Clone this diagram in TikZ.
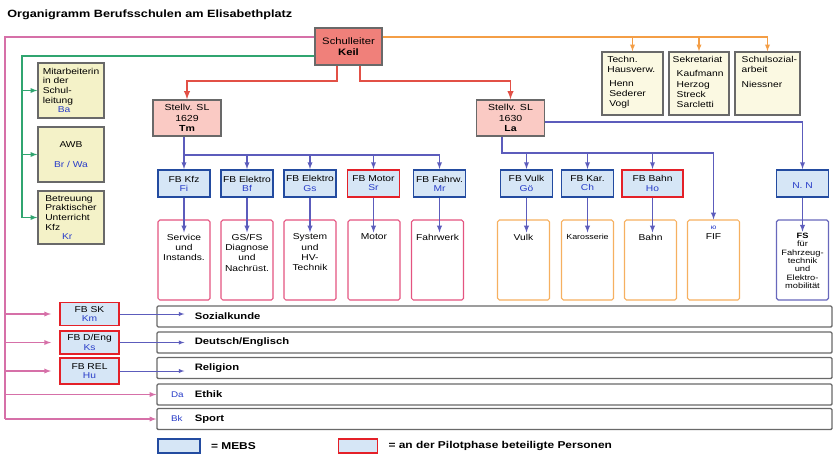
\documentclass[tikz,border=0pt]{standalone}
\usepackage{fontspec}
\setmainfont{Liberation Sans}[FakeStretch=1.2]
\usepackage{tikz}
\usetikzlibrary{positioning}

\definecolor{chefred}{RGB}{240,128,122}
\definecolor{stvpink}{RGB}{250,202,196}
\definecolor{boxgrey}{RGB}{105,105,105}
\definecolor{yellowfill}{RGB}{244,242,200}
\definecolor{creamfill}{RGB}{251,249,226}
\definecolor{fbfill}{RGB}{214,230,246}
\definecolor{mebsblue}{RGB}{35,75,160}
\definecolor{pilotred}{RGB}{228,32,40}
\definecolor{nameblue}{RGB}{40,60,200}
\definecolor{linepink}{RGB}{214,112,168}
\definecolor{linegreen}{RGB}{48,165,112}
\definecolor{lineorange}{RGB}{244,158,70}
\definecolor{linered}{RGB}{226,80,70}
\definecolor{lineblue}{RGB}{92,92,188}
\definecolor{subpink}{RGB}{228,84,128}
\definecolor{suborange}{RGB}{246,176,96}
\definecolor{subblue}{RGB}{104,104,188}

\begin{document}
\begin{tikzpicture}[>=latex, x=0.3mm, y=-0.3mm,
		every node/.style={font=\fontsize{7.5}{8.8}\selectfont, inner sep=1pt},
		greybox/.style={draw=boxgrey, line width=1.2pt, align=center},
		chefbox/.style={greybox, fill=chefred, minimum width=20.1mm, minimum height=11.1mm, font=\fontsize{8}{9.5}\selectfont},
		stvbox/.style={greybox, fill=stvpink, minimum width=20.4mm, minimum height=10.8mm, font=\fontsize{7.5}{8.8}\selectfont},
		yellowbox/.style={greybox, fill=yellowfill, minimum width=19.8mm, minimum height=16.5mm, align=left, font=\fontsize{7.3}{8.2}\selectfont},
		creambox/.style={greybox, fill=creamfill, minimum height=18.9mm},
		boxtext/.style={anchor=north west, align=left, font=\fontsize{7.3}{8.6}\selectfont},
		fbbox/.style={draw=mebsblue, line width=1.6pt, fill=fbfill, minimum width=15.6mm, minimum height=8.1mm, align=center, font=\fontsize{7.3}{7.8}\selectfont},
		pilotbox/.style={fbbox, draw=pilotred},
		subbox/.style={draw=subpink, line width=0.9pt, fill=white, rounded corners=1.5pt, minimum width=15.6mm, minimum height=24mm},
		subtext/.style={align=center, font=\fontsize{7.3}{8.8}\selectfont},
		rowbox/.style={draw=boxgrey, line width=1.1pt, fill=white, rounded corners=1pt, minimum width=202.5mm, minimum height=6.3mm},
		rowtext/.style={font=\fontsize{8}{9}\selectfont\bfseries},
		legtext/.style={font=\fontsize{8.5}{9}\selectfont\bfseries},
		pinkline/.style={draw=linepink, line width=1pt},
		greenline/.style={draw=linegreen, line width=1pt},
		orangeline/.style={draw=lineorange, line width=1pt},
		redline/.style={draw=linered, line width=1.4pt},
		blueline/.style={draw=lineblue, line width=1pt},
		thinblue/.style={draw=lineblue, line width=0.6pt}]
		\useasboundingbox (0,0) rectangle (834,453);

		\node[anchor=west, font=\fontsize{9}{10}\selectfont\bfseries] (title) at (6,15) {Organigramm Berufsschulen am Elisabethplatz};

		% Leitung
		\node[chefbox] (chef) at (348.5,46.5) {Schulleiter\\\textbf{Keil}};
		\node[stvbox] (stv1) at (187,118) {Stellv. SL\\1629\\\textbf{Tm}};
		\node[stvbox] (stv2) at (510.5,118) {Stellv. SL\\1630\\\textbf{La}};

		% links: Stab
		\node[yellowbox] (mita) at (71,90.5) {Mitarbeiterin\\in der\\Schul-\\leitung\\\hspace*{4.5mm}\textcolor{nameblue}{Ba}};
		\node[yellowbox, align=center] (awb) at (71,154.5) {AWB\\[3.2mm]\textcolor{nameblue}{Br / Wa}};
		\node[yellowbox, minimum height=15.9mm] (betr) at (71,217.5) {Betreuung\\Praktischer\\Unterricht\\Kfz\\\hspace*{5mm}\textcolor{nameblue}{Kr}};

		% rechts oben
		\node[creambox, minimum width=18.3mm] (techn) at (632.5,83.5) {};
		\node[boxtext] (ttechn) at ([xshift=1.4mm,yshift=-1.1mm]techn.north west) {Techn.\\Hausverw.\\[1.2mm]\hspace*{0.6mm}Henn\\\hspace*{0.6mm}Sederer\\\hspace*{0.6mm}Vogl};
		\node[creambox, minimum width=18mm] (sekr) at (699,83.5) {};
		\node[boxtext] (tsekr) at ([xshift=0.9mm,yshift=-1.1mm]sekr.north west) {Sekretariat\\[1.3mm]\hspace*{1.2mm}Kaufmann\\\hspace*{1.2mm}Herzog\\\hspace*{1.2mm}Streck\\\hspace*{1.2mm}Sarcletti};
		\node[creambox, minimum width=19.5mm] (sozarb) at (767.5,83.5) {};
		\node[boxtext] (tsozarb) at ([xshift=1.8mm,yshift=-1.1mm]sozarb.north west) {Schulsozial-\\arbeit\\[1.3mm]Niessner};

		% Fachbetreuer
		\node[fbbox] (kfz) at (184,183.5) {FB Kfz\\\textcolor{nameblue}{Fi}};
		\node[fbbox] (elbf) at (247,183.5) {FB Elektro\\\textcolor{nameblue}{Bf}};
		\node[fbbox] (elgs) at (310,183.5) {FB Elektro\\\textcolor{nameblue}{Gs}};
		\node[pilotbox] (motor) at (373.5,183.5) {FB Motor\\\textcolor{nameblue}{Sr}};
		\node[fbbox] (fahrw) at (439.5,183.5) {FB Fahrw.\\\textcolor{nameblue}{Mr}};
		\node[fbbox] (vulk) at (526.5,183.5) {FB Vulk\\\textcolor{nameblue}{Gö}};
		\node[fbbox] (kar) at (587.5,183.5) {FB Kar.\\\textcolor{nameblue}{Ch}};
		\node[pilotbox, minimum width=18.3mm] (bahn) at (652.5,183.5) {FB Bahn\\\textcolor{nameblue}{Ho}};
		\node[fbbox] (nn) at (802.5,183.5) {~\\\textcolor{nameblue}{N. N}};

		% Fachbereiche
		\node[subbox] (skfz) at (184,260) {};
		\node[subtext, below=3.9mm of skfz.north] (tkfz) {Service\\und\\Instands.};
		\node[subbox] (selbf) at (247,260) {};
		\node[subtext, below=3.9mm of selbf.north] (telbf) {GS/FS\\Diagnose\\und\\Nachrüst.};
		\node[subbox] (selgs) at (310,260) {};
		\node[subtext, below=3.9mm of selgs.north] (telgs) {System\\und\\HV-\\Technik};
		\node[subbox] (smotor) at (374,260) {};
		\node[subtext, below=3.9mm of smotor.north] (tmotor) {Motor};
		\node[subbox] (sfahrw) at (437.5,260) {};
		\node[subtext, below=3.9mm of sfahrw.north] (tfahrw) {Fahrwerk};
		\node[subbox, draw=suborange] (svulk) at (523.5,260) {};
		\node[subtext, below=3.9mm of svulk.north] (tvulk) {Vulk};
		\node[subbox, draw=suborange] (skar) at (587.5,260) {};
		\node[subtext, below=3.9mm of skar.north, font=\fontsize{6.3}{8}\selectfont] (tkar) {Karosserie};
		\node[subbox, draw=suborange] (sbahn) at (650.5,260) {};
		\node[subtext, below=3.9mm of sbahn.north] (tbahn) {Bahn};
		\node[subbox, draw=suborange] (sfif) at (713.5,260) {};
		\node[subtext, below=1.6mm of sfif.north] (tfif) {\textcolor{nameblue}{\fontsize{5.5}{6}\selectfont ю}\\FIF};
		\node[subbox, draw=subblue, line width=1.1pt] (snn) at (802.5,260) {};
		\node[subtext, below=3.7mm of snn.north, font=\fontsize{6.6}{7.1}\selectfont] (tnn) {\textbf{FS}\\für\\Fahrzeug-\\technik\\und\\Elektro-\\mobilität};

		% allgemeinbildende Faecher
		\node[rowbox] (rsk) at (494.5,316.5) {};
		\node[rowbox] (rde) at (494.5,342.5) {};
		\node[rowbox] (rrel) at (494.5,368) {};
		\node[rowbox] (reth) at (494.5,394.5) {};
		\node[rowbox] (rsp) at (494.5,419) {};
		\node[rowtext, anchor=west, right=11.1mm of rsk.west] (tsk) {Sozialkunde};
		\node[rowtext, anchor=west, right=11.1mm of rde.west] (tde) {Deutsch/Englisch};
		\node[rowtext, anchor=west, right=11.1mm of rrel.west] (trel) {Religion};
		\node[rowtext, anchor=west, right=11.1mm of reth.west] (teth) {Ethik};
		\node[rowtext, anchor=west, right=11.1mm of rsp.west] (tsp) {Sport};
		\node[anchor=west, right=4mm of reth.west, font=\fontsize{7}{8}\selectfont] (da) {\textcolor{nameblue}{Da}};
		\node[anchor=west, right=4mm of rsp.west, font=\fontsize{7}{8}\selectfont] (bk) {\textcolor{nameblue}{Bk}};

		\node[pilotbox, minimum width=17.7mm, minimum height=6.9mm] (fbsk) at (89.5,314) {FB SK\\\textcolor{nameblue}{Km}};
		\node[pilotbox, minimum width=17.7mm, minimum height=6.9mm] (fbde) at (89.5,342.5) {FB D/Eng\\\textcolor{nameblue}{Ks}};
		\node[pilotbox, minimum width=17.7mm, minimum height=7.8mm] (fbrel) at (89.5,371) {FB REL\\\textcolor{nameblue}{Hu}};

		% Legende
		\node[fbbox, minimum width=12.6mm, minimum height=4.2mm] (lgmebs) at (179,446) {};
		\node[legtext, right=2.6mm of lgmebs] (tmebs) {= MEBS};
		\node[pilotbox, minimum width=11.7mm, minimum height=4.2mm] (lgpilot) at (358,446) {};
		\node[legtext, right=2.6mm of lgpilot] (tpilot) {= an der Pilotphase beteiligte Personen};

		% Verbindungen
		\coordinate (p0) at (5,37);
		\coordinate (g0) at (22,56);
		\coordinate (r0) at (337,81);
		\coordinate (r1) at (360,81);
		\coordinate (b0) at (184,155);
		\coordinate (b1) at (502,153);
		\coordinate (n0) at (802,122);

		\draw[pinkline] (chef.west |- p0) -- (p0) -- (p0 |- rsp);
		\foreach \n in {fbsk,fbde,fbrel}
			\draw[pinkline,->,shorten >=2.4mm] (p0 |- \n) -- (\n);
		\draw[pinkline,->] (p0 |- reth) -- (reth);
		\draw[pinkline,->] (p0 |- rsp) -- (rsp);

		\draw[greenline] (chef.west |- g0) -- (g0) -- (g0 |- betr);
		\foreach \n in {mita,awb,betr}
			\draw[greenline,->] (g0 |- \n) -- (\n);

		\draw[orangeline] (chef.east |- p0) -- (sozarb |- p0);
		\foreach \n in {techn,sekr,sozarb}
			\draw[orangeline,->] (\n |- p0) -- (\n);

		\draw[redline,->] (chef.south -| r0) -- (r0) -| (stv1);
		\draw[redline,->] (chef.south -| r1) -- (r1) -| (stv2);

		\draw[blueline] (stv1.south -| b0) -- (b0) -- (fahrw |- b0);
		\foreach \n in {kfz,elbf,elgs,motor,fahrw}
			\draw[blueline,->] (\n |- b0) -- (\n);
		\draw[blueline] (stv2.south -| b1) -- (b1) -- (sfif |- b1);
		\foreach \n in {vulk,kar,bahn,sfif}
			\draw[blueline,->] (\n |- b1) -- (\n);
		\draw[blueline,->] (stv2.east |- n0) -| (nn);

		\foreach \a/\b in {kfz/tkfz,elbf/telbf,elgs/telgs,motor/tmotor,fahrw/tfahrw,vulk/tvulk,kar/tkar,bahn/tbahn,nn/tnn}
			\draw[blueline,->] (\a) -- (\a |- \b.north);

		\foreach \a/\b in {fbsk/tsk,fbde/tde,fbrel/trel}
			\draw[thinblue,->,shorten >=2.7mm] (\a) -- (\a -| \b.west);
	\end{tikzpicture}
\end{document}
